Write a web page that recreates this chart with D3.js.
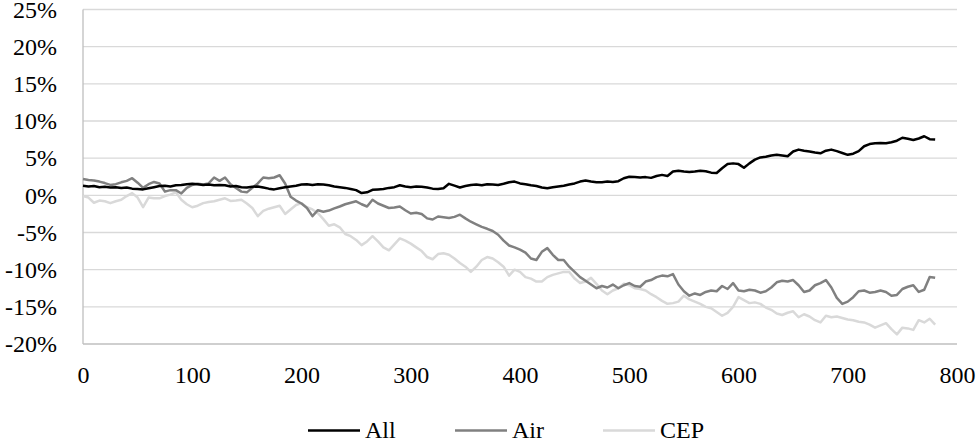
<!DOCTYPE html>
<html>
<head>
<meta charset="utf-8">
<script src="https://cdn.jsdelivr.net/npm/d3@7"></script>
<style>
  html, body { margin: 0; padding: 0; background: #fff; }
  svg { display: block; }
  svg text { font-family: 'Liberation Serif', 'Times New Roman', Times, serif; }
</style>
</head>
<body>
<svg id="chart" width="979" height="441"></svg>
<script>
// Day index, sampled every 5 days
const days = d3.range(0, 781, 5);

// Cumulative return (%) for each series
const allValues = [
  1.3, 1.2, 1.25, 1.1, 1.15, 1.05, 1.1, 1.0, 1.05, 0.9,
  0.85, 0.8, 0.95, 1.1, 1.25, 1.3, 1.2, 1.35, 1.4, 1.5,
  1.55, 1.5, 1.4, 1.45, 1.35, 1.4, 1.35, 1.2, 1.25, 1.1,
  1.05, 1.15, 1.2, 1.05, 0.9, 0.8, 0.95, 1.1, 1.2, 1.3,
  1.45, 1.5, 1.4, 1.5, 1.45, 1.35, 1.2, 1.1, 1.0, 0.85,
  0.7, 0.3, 0.4, 0.75, 0.8, 0.85, 1.0, 1.1, 1.35, 1.2,
  1.1, 1.2, 1.15, 1.05, 0.9, 0.85, 0.95, 1.55, 1.3, 1.05,
  1.25, 1.4, 1.45, 1.35, 1.5, 1.45, 1.4, 1.55, 1.75, 1.85,
  1.6, 1.5, 1.35, 1.25, 1.05, 0.95, 1.1, 1.2, 1.3, 1.45,
  1.6, 1.85, 2.0, 1.85, 1.75, 1.75, 1.85, 1.8, 1.9, 2.3,
  2.5, 2.45, 2.4, 2.45, 2.35, 2.6, 2.75, 2.6, 3.2, 3.3,
  3.2, 3.15, 3.2, 3.3, 3.25, 3.05, 3.0, 3.65, 4.2, 4.3,
  4.2, 3.7, 4.3, 4.8, 5.1, 5.2, 5.35, 5.45, 5.35, 5.25,
  5.9, 6.15, 6.0, 5.9, 5.75, 5.65, 6.0, 6.15, 5.95, 5.7,
  5.45, 5.6, 5.95, 6.6, 6.9, 7.0, 7.05, 7.0, 7.15, 7.35,
  7.75, 7.6, 7.45, 7.65, 7.95, 7.55, 7.5
];

const airValues = [
  2.2, 2.05, 2.0, 1.85, 1.65, 1.4, 1.5, 1.75, 1.95, 2.3,
  1.7, 1.0, 1.5, 1.8, 1.6, 0.5, 0.7, 0.7, 0.25, 1.0,
  1.4, 1.55, 1.45, 1.6, 2.4, 1.95, 2.4, 1.5, 1.0, 0.5,
  0.4, 1.0, 1.6, 2.4, 2.3, 2.4, 2.7, 1.6, -0.2, -0.7,
  -1.1, -1.7, -2.8, -2.0, -2.2, -2.05, -1.75, -1.5, -1.2, -1.0,
  -0.8, -1.2, -1.5, -0.6, -1.1, -1.4, -1.7, -1.65, -1.5, -2.0,
  -2.45, -2.35, -2.5, -3.1, -3.25, -2.85, -2.95, -3.05, -2.9, -2.6,
  -3.1, -3.55, -3.9, -4.25, -4.5, -4.8, -5.3, -6.1, -6.75, -7.0,
  -7.3, -7.7, -8.5, -8.7, -7.6, -7.1, -8.0, -8.7, -8.7, -9.6,
  -10.3, -11.0, -11.5, -12.0, -12.5, -12.2, -12.4, -12.0, -12.5, -12.1,
  -11.8, -12.2, -12.3, -11.6, -11.4, -11.0, -10.8, -10.9, -10.6, -12.0,
  -12.9, -13.5, -13.2, -13.4, -13.0, -12.8, -12.9, -12.2, -12.6, -11.8,
  -12.8, -12.9, -12.7, -12.8, -13.1, -12.9, -12.4, -11.7, -11.5, -11.6,
  -11.4, -12.1, -13.0, -12.8, -12.1, -11.8, -11.4, -12.4, -13.8, -14.6,
  -14.3, -13.7, -12.9, -12.8, -13.1, -13.0, -12.8, -13.0, -13.5, -13.4,
  -12.6, -12.3, -12.1, -13.0, -12.7, -11.0, -11.1
];

const cepValues = [
  -0.1, -0.3, -1.0, -0.7, -0.8, -1.05, -0.8, -0.6, -0.1, 0.3,
  -0.3, -1.6, -0.3, -0.4, -0.4, -0.1, 0.1, 0.4, -0.6, -1.2,
  -1.6, -1.4, -1.05, -0.9, -0.8, -0.6, -0.4, -0.75, -0.7, -0.6,
  -1.1, -1.7, -2.8, -2.1, -1.8, -1.6, -1.4, -2.5, -1.9, -1.3,
  -1.05, -1.6, -1.9, -2.4, -3.2, -4.1, -3.9, -4.3, -5.2, -5.5,
  -6.0, -6.7, -6.2, -5.5, -6.2, -7.0, -7.4, -6.6, -5.8, -6.1,
  -6.5, -7.0, -7.5, -8.3, -8.6, -7.9, -7.8, -8.0, -8.5, -9.1,
  -9.6, -10.3, -9.6, -8.7, -8.3, -8.5, -9.0, -9.6, -10.8, -10.0,
  -10.3, -11.0, -11.2, -11.6, -11.6, -11.0, -10.7, -10.5, -10.3, -10.3,
  -11.2, -11.8, -11.6, -11.1, -11.9, -12.8, -13.3, -12.8, -12.5, -11.9,
  -12.1, -12.5, -12.6, -12.8, -13.3, -13.7, -14.2, -14.6, -14.5, -14.3,
  -13.5, -14.0, -14.3, -14.6, -15.0, -15.2, -15.7, -16.2, -15.8, -15.0,
  -13.7, -14.1, -14.5, -14.4, -14.6, -15.1, -15.4, -15.9, -16.1, -15.8,
  -15.6, -16.4, -16.0, -16.3, -16.8, -17.1, -16.2, -16.4, -16.3, -16.5,
  -16.7, -16.8, -17.0, -17.1, -17.4, -17.8, -17.5, -17.2, -18.0, -18.7,
  -17.8, -17.9, -18.1, -16.8, -17.1, -16.6, -17.4
];

const seriesNames = ["All", "Air", "CEP"];
const seriesColors = ["#000000", "#808080", "#d9d9d9"];

const xTicks = [0, 100, 200, 300, 400, 500, 600, 700, 800];
const yTicks = [-20, -15, -10, -5, 0, 5, 10, 15, 20, 25];

const svg = d3.select("#chart");
const plot = { left: 83, right: 957, top: 9.5, bottom: 344 };

const x = d3.scaleLinear().domain([0, 800]).range([plot.left, plot.right]);
const y = d3.scaleLinear().domain([-20, 25]).range([plot.bottom, plot.top]);

// Horizontal gridlines
svg.append("g")
  .selectAll("line")
  .data(yTicks.filter(t => t !== -20))
  .join("line")
  .attr("x1", plot.left).attr("x2", plot.right)
  .attr("y1", d => y(d)).attr("y2", d => y(d))
  .attr("stroke", "#d9d9d9").attr("stroke-width", 1.3);

// Y axis labels
const yAxis = d3.axisLeft(y).tickValues(yTicks).tickSize(0).tickPadding(26)
  .tickFormat(d => d + "%");
svg.append("g")
  .attr("transform", `translate(${plot.left},0)`)
  .call(yAxis)
  .call(g => g.select(".domain").remove())
  .call(g => g.selectAll("text")
    .attr("font-family", null)
    .attr("font-size", 24).attr("fill", "#000"));

// X axis labels
const xAxis = d3.axisBottom(x).tickValues(xTicks).tickSize(0).tickPadding(22);
svg.append("g")
  .attr("transform", `translate(0,${plot.bottom})`)
  .call(xAxis)
  .call(g => g.select(".domain").remove())
  .call(g => g.selectAll("text")
    .attr("font-family", null)
    .attr("font-size", 24).attr("fill", "#000"));

// The axis groups carry their own font-family; clear it so the stylesheet applies
svg.selectAll("g").attr("font-family", null);

// Axis lines
svg.append("line")
  .attr("x1", plot.left).attr("x2", plot.left)
  .attr("y1", plot.top).attr("y2", plot.bottom)
  .attr("stroke", "#bfbfbf").attr("stroke-width", 1.3);
svg.append("line")
  .attr("x1", plot.left).attr("x2", plot.right)
  .attr("y1", plot.bottom).attr("y2", plot.bottom)
  .attr("stroke", "#bfbfbf").attr("stroke-width", 1.3);

// Series lines
const series = [allValues, airValues, cepValues];
const line = d3.line().x((d, i) => x(days[i])).y(d => y(d));

[2, 1, 0].forEach(k => {
  svg.append("path")
    .datum(series[k])
    .attr("d", line)
    .attr("fill", "none")
    .attr("stroke", seriesColors[k])
    .attr("stroke-width", 2.5)
    .attr("stroke-linejoin", "round");
});

// Legend
const legendX = [308, 455, 603];
const legend = svg.append("g");
seriesNames.forEach((name, k) => {
  legend.append("line")
    .attr("x1", legendX[k]).attr("x2", legendX[k] + 52)
    .attr("y1", 430.5).attr("y2", 430.5)
    .attr("stroke", seriesColors[k]).attr("stroke-width", 2.5);
  legend.append("text")
    .attr("x", legendX[k] + 57).attr("y", 438)
    .attr("font-size", 24).attr("fill", "#000")
    .text(name);
});
</script>
</body>
</html>
